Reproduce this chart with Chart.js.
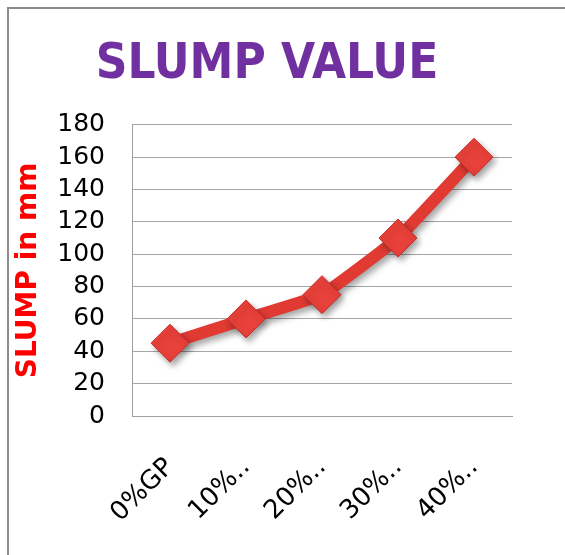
<!DOCTYPE html>
<html>
<head>
<meta charset="utf-8">
<script src="https://cdn.jsdelivr.net/npm/chart.js@4"></script>
<style>
    html, body { margin: 0; padding: 0; background: #fff; }
    .wrap {
        position: relative;
        width: 565px;
        height: 555px;
        overflow: hidden;
    }
    .frame {
        position: absolute;
        left: 7px;
        top: 7px;
        width: 600px;
        height: 546px;
        border-top: 2px solid #8c8c8c;
        border-left: 2px solid #8c8c8c;
    }
    canvas { position: absolute; left: 0; top: 0; }
</style>
</head>
<body>
<div class="wrap">
    <div class="frame"></div>
    <canvas id="slumpChart" width="565" height="555"></canvas>
</div>
<script>
// Slump test results
const mixes = ['0%GP', '10%..', '20%..', '30%..', '40%..'];
const slumpMm = [45, 60, 75, 110, 160];
const yTicks = [0, 20, 40, 60, 80, 100, 120, 140, 160, 180];

// soft drop shadow under the line and markers
const shadowPlugin = {
    id: 'shadow',
    beforeDatasetsDraw(chart) {
        const ctx = chart.ctx;
        ctx.save();
        ctx.shadowColor = 'rgba(0, 0, 0, 0.35)';
        ctx.shadowBlur = 6;
        ctx.shadowOffsetX = 3;
        ctx.shadowOffsetY = 4;
    },
    afterDatasetsDraw(chart) {
        chart.ctx.restore();
    }
};

const ctx = document.getElementById('slumpChart').getContext('2d');

new Chart(ctx, {
    type: 'line',
    data: {
        labels: mixes,
        datasets: [{
            label: 'Slump',
            data: slumpMm,
            borderColor: '#E03A33',
            borderWidth: 12,
            tension: 0.1,
            pointStyle: 'rectRot',
            pointRadius: 19,
            pointBackgroundColor: '#E8403A',
            pointBorderColor: '#C62E28',
            pointBorderWidth: 1,
            fill: false
        }]
    },
    options: {
        responsive: false,
        animation: false,
        layout: {
            padding: { left: 22, right: 53, top: 10, bottom: 0 }
        },
        plugins: {
            legend: { display: false },
            tooltip: { enabled: false },
            title: {
                display: true,
                text: 'SLUMP VALUE',
                color: '#7030A0',
                font: { family: 'DejaVu Sans Condensed', size: 49, weight: 'bold' },
                padding: { top: 26, bottom: 30 }
            }
        },
        scales: {
            x: {
                offset: true,
                grid: { display: false, drawTicks: false },
                border: { color: '#a0a0a0', width: 1 },
                ticks: {
                    color: '#000',
                    font: { family: 'DejaVu Sans', size: 26 },
                    minRotation: 45,
                    maxRotation: 45,
                    padding: 36,
                    autoSkip: false
                },
                afterFit(scale) {
                    scale.height = 139;
                }
            },
            y: {
                min: 0,
                max: 180,
                afterBuildTicks(scale) {
                    scale.ticks = yTicks.map(v => ({ value: v }));
                },
                grid: { color: '#a6a6a6', lineWidth: 1, drawTicks: false },
                border: { color: '#a0a0a0', width: 1 },
                ticks: {
                    color: '#000',
                    font: { family: 'DejaVu Sans', size: 25 },
                    padding: 27,
                    autoSkip: false
                },
                title: {
                    display: true,
                    text: 'SLUMP in mm',
                    color: '#FF0000',
                    font: { family: 'DejaVu Sans', size: 28, weight: 'bold', lineHeight: 0.5 },
                    padding: { top: 0, bottom: 0 }
                },
                afterFit(scale) {
                    scale.width = 110;
                }
            }
        }
    },
    plugins: [shadowPlugin]
});
</script>
</body>
</html>
